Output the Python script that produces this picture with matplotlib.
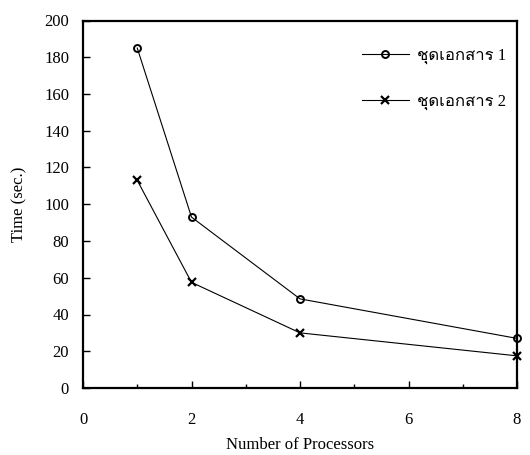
import matplotlib
matplotlib.use("Agg")
import matplotlib.pyplot as plt
from matplotlib import font_manager
from matplotlib.ticker import MultipleLocator
from matplotlib.ft2font import FT2Font

processors = [1, 2, 4, 8]
time_set1 = [185, 93, 48.5, 27]
time_set2 = [113, 57.5, 30, 17.5]
labels = ["ชุดเอกสาร 1", "ชุดเอกสาร 2"]


def find_thai_font():
    # look for any installed font that has Thai glyphs
    for f in font_manager.fontManager.ttflist:
        try:
            cmap = FT2Font(f.fname).get_charmap()
        except Exception:
            continue
        if ord("ช") in cmap and ord("ส") in cmap:
            return f.name
    return None


thai = find_thai_font()
serif = "Liberation Serif"
families = [serif] + ([thai] if thai else []) + ["DejaVu Sans"]

plt.rcParams["font.family"] = families
plt.rcParams["font.size"] = 12

fig = plt.figure(figsize=(5.3, 4.55), dpi=100)
ax = fig.add_axes([83 / 530, 1 - 388 / 455, (517 - 83) / 530, (388 - 20.5) / 455])

ax.plot(processors, time_set1, color="black", lw=0.8, marker="o", ms=5,
        mfc="none", mew=1.4, label=labels[0], clip_on=False)
ax.plot(processors, time_set2, color="black", lw=0.8, marker="x", ms=6,
        mew=1.6, label=labels[1], clip_on=False)

ax.set_xlim(0, 8)
ax.set_ylim(0, 200)
ax.xaxis.set_major_locator(MultipleLocator(2))
ax.xaxis.set_minor_locator(MultipleLocator(1))
ax.yaxis.set_major_locator(MultipleLocator(20))
ax.tick_params(which="major", direction="in", length=5, width=1)
ax.tick_params(which="minor", direction="in", length=3, width=1)
ax.tick_params(axis="x", which="both", pad=17)
ax.tick_params(axis="y", pad=10)
for s in ax.spines.values():
    s.set_linewidth(1.6)

ax.set_xlabel("Number of Processors", labelpad=7)
ax.set_ylabel("Time (sec.)", labelpad=12)

ax.legend(loc="upper right", frameon=False, handlelength=2.8,
          labelspacing=1.8, handletextpad=0.5, borderaxespad=0.0,
          bbox_to_anchor=(0.99, 0.945))

fig.savefig("out.png", dpi=100)
